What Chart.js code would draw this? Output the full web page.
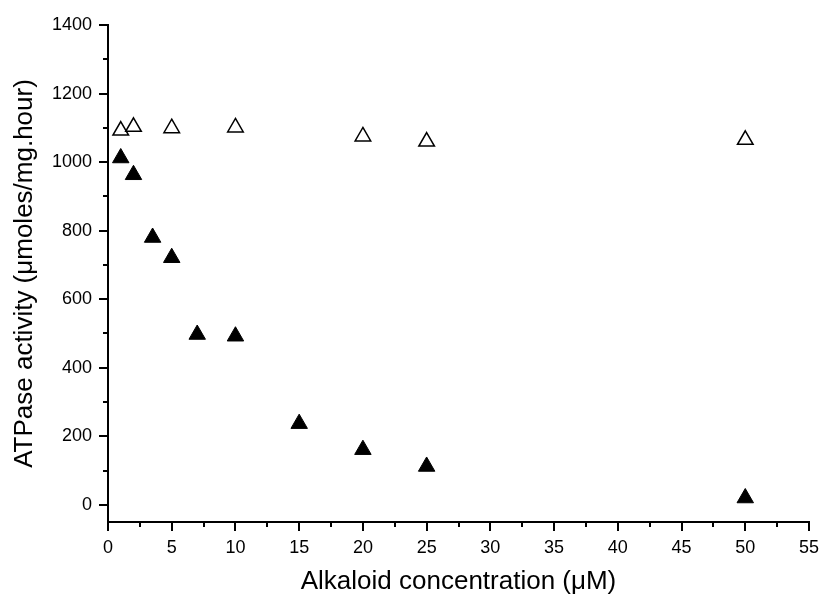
<!DOCTYPE html>
<html>
<head>
<meta charset="utf-8">
<script src="https://cdn.jsdelivr.net/npm/chart.js@4.4.1/dist/chart.umd.min.js"></script>
<style>
html,body{margin:0;padding:0;background:#fff;}
#wrap{width:821px;height:597px;position:relative;}
</style>
</head>
<body>
<div id="wrap"><canvas id="c" width="821" height="597"></canvas></div>
<script>
// Data
const concFilled = [1, 2, 3.5, 5, 7, 10, 15, 20, 25, 50];
const activityFilled = [1012, 963, 780, 721, 497, 492, 237, 161, 112, 20];
const concOpen = [1, 2, 5, 10, 20, 25, 50];
const activityOpen = [1092, 1103, 1099, 1101, 1075, 1060, 1065];
const yTickValues = [0, 200, 400, 600, 800, 1000, 1200, 1400];
const yMinorValues = [100, 300, 500, 700, 900, 1100, 1300];
const xMinorValues = [2.5, 7.5, 12.5, 17.5, 22.5, 27.5, 32.5, 37.5, 42.5, 47.5, 52.5];

const FONT = "'Liberation Sans', Arial, sans-serif";

const minorTicks = {
  id: 'minorTicks',
  afterDraw(chart) {
    const ctx = chart.ctx;
    const xs = chart.scales.x, ys = chart.scales.y;
    ctx.save();
    ctx.strokeStyle = '#000';
    ctx.lineWidth = 2;
    ctx.beginPath();
    const yb = chart.chartArea.bottom;
    xMinorValues.forEach(v => {
      const px = Math.round(xs.getPixelForValue(v));
      ctx.moveTo(px, yb);
      ctx.lineTo(px, yb + 5);
    });
    const xl = chart.chartArea.left;
    yMinorValues.forEach(v => {
      const py = Math.round(ys.getPixelForValue(v));
      ctx.moveTo(xl, py);
      ctx.lineTo(xl - 5, py);
    });
    ctx.stroke();
    ctx.restore();
  }
};

new Chart(document.getElementById('c'), {
  type: 'scatter',
  data: {
    datasets: [
      {
        label: 'filled',
        data: concFilled.map((x, i) => ({x: x, y: activityFilled[i]})),
        pointStyle: 'triangle',
        pointRadius: 9.5,
        pointHoverRadius: 9.5,
        backgroundColor: '#000',
        borderColor: '#000',
        borderWidth: 1
      },
      {
        label: 'open',
        data: concOpen.map((x, i) => ({x: x, y: activityOpen[i]})),
        pointStyle: 'triangle',
        pointRadius: 9,
        pointHoverRadius: 9,
        backgroundColor: '#fff',
        borderColor: '#000',
        borderWidth: 1.5
      }
    ]
  },
  options: {
    responsive: false,
    animation: false,
    events: [],
    layout: {padding: {left: 0, right: 12, top: 25, bottom: 0}},
    plugins: {legend: {display: false}, tooltip: {enabled: false}},
    scales: {
      x: {
        type: 'linear',
        min: 0, max: 55,
        ticks: {stepSize: 5, color: '#000', font: {family: FONT, size: 18}, padding: 6, maxRotation: 0,
                callback: v => String(v)},
        grid: {display: true, drawOnChartArea: false, drawTicks: true, tickLength: 9, color: '#000', lineWidth: 2},
        border: {display: true, color: '#000', width: 2},
        title: {display: true, text: 'Alkaloid concentration (\u03bcM)', color: '#000', font: {family: FONT, size: 26}, padding: {top: 4, bottom: 0}},
        afterFit(scale) { scale.height = 75; scale.paddingRight = 0; scale.paddingLeft = 0; }
      },
      y: {
        type: 'linear',
        min: -50, max: 1400,
        afterBuildTicks(scale) { scale.ticks = yTickValues.map(v => ({value: v})); },
        ticks: {color: '#000', font: {family: FONT, size: 18}, padding: 7, callback: v => String(v)},
        grid: {display: true, drawOnChartArea: false, drawTicks: true, tickLength: 9, color: '#000', lineWidth: 2},
        border: {display: true, color: '#000', width: 2},
        title: {display: true, text: 'ATPase activity (\u03bcmoles/mg.hour)', color: '#000', font: {family: FONT, size: 26}, padding: {top: 9, bottom: 0}},
        afterFit(scale) { scale.width = 108; scale.paddingTop = 0; scale.paddingBottom = 0; }
      }
    }
  },
  plugins: [minorTicks]
});
</script>
</body>
</html>
